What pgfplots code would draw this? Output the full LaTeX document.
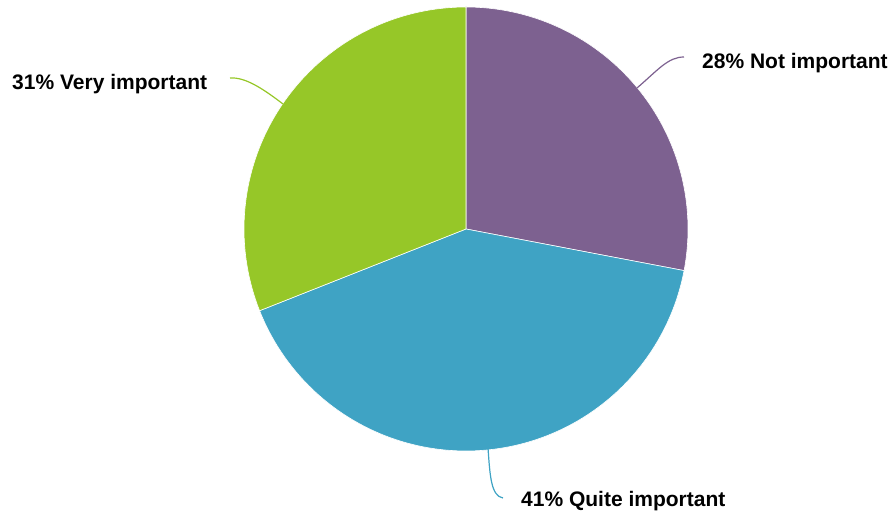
\documentclass[border=0pt]{standalone}
\usepackage{pgfplots}
\pgfplotsset{compat=1.18}
\usepackage{fontspec}
\setmainfont{Liberation Sans}
\definecolor{cNot}{RGB}{125,97,144}
\definecolor{cQuite}{RGB}{63,163,196}
\definecolor{cVery}{RGB}{150,199,40}
% shares in percent
\def\vNot{28}
\def\vQuite{41}
\def\vVery{31}
\def\cx{466}
\def\cy{289}
\def\R{222}
\begin{document}
\begin{tikzpicture}
\pgfmathsetmacro{\aA}{90}
\pgfmathsetmacro{\aB}{90-3.6*\vNot}
\pgfmathsetmacro{\aC}{\aB-3.6*\vQuite}
\pgfmathsetmacro{\aD}{\aC-3.6*\vVery}
\begin{axis}[
  width=891pt, height=518pt, scale only axis,
  xmin=0, xmax=891, ymin=0, ymax=518,
  hide axis, clip=false,
]
\addplot[fill=cNot, draw=white, line width=0.6pt, domain=\aB:\aA, samples=120, variable=\t]
  ({\cx+\R*cos(\t)}, {\cy+\R*sin(\t)}) -- (\cx,\cy) -- cycle;
\addplot[fill=cQuite, draw=white, line width=0.6pt, domain=\aC:\aB, samples=160, variable=\t]
  ({\cx+\R*cos(\t)}, {\cy+\R*sin(\t)}) -- (\cx,\cy) -- cycle;
\addplot[fill=cVery, draw=white, line width=0.6pt, domain=\aD:\aC, samples=140, variable=\t]
  ({\cx+\R*cos(\t)}, {\cy+\R*sin(\t)}) -- (\cx,\cy) -- cycle;
% leader lines
\draw[cNot, line width=1.2pt] (637,430) .. controls (658,448) and (668,461) .. (684,461);
\draw[cQuite, line width=1.2pt] (488,70) .. controls (490,42) and (491,22) .. (503,20);
\draw[cVery, line width=1.2pt] (230,440) .. controls (245,441) and (262,430) .. (283,414);
% labels
\node[anchor=base west, inner sep=0pt, font=\fontsize{21pt}{24pt}\selectfont\bfseries] at (702,449) {28\% Not important};
\node[anchor=base west, inner sep=0pt, font=\fontsize{21pt}{24pt}\selectfont\bfseries] at (521,11) {41\% Quite important};
\node[anchor=base west, inner sep=0pt, font=\fontsize{21pt}{24pt}\selectfont\bfseries] at (12,428) {31\% Very important};
\end{axis}
\pgfresetboundingbox
\path (0,0) rectangle (891pt,518pt);
\end{tikzpicture}
\end{document}
